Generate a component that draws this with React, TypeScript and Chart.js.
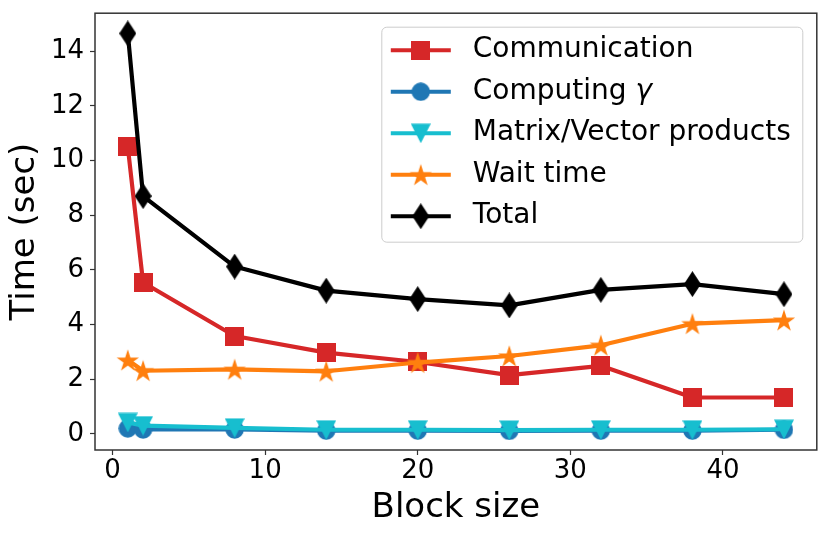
import React, { useEffect, useRef } from 'react';
import { Chart, registerables } from 'chart.js';

Chart.register(...registerables);

// values
const blockSizes = [1, 2, 8, 14, 20, 26, 32, 38, 44];
const communication = [10.5, 5.54, 3.58, 2.97, 2.63, 2.15, 2.49, 1.33, 1.33];
const computingGamma = [0.2, 0.16, 0.16, 0.12, 0.12, 0.11, 0.12, 0.12, 0.15];
const matrixVector = [0.42, 0.3, 0.22, 0.15, 0.15, 0.14, 0.15, 0.15, 0.17];
const waitTime = [2.7, 2.31, 2.36, 2.29, 2.61, 2.85, 3.24, 4.03, 4.16];
const total = [14.65, 8.7, 6.12, 5.24, 4.93, 4.7, 5.27, 5.48, 5.11];

const xTicks = [0, 10, 20, 30, 40];
const yTicks = [0, 2, 4, 6, 8, 10, 12, 14];

const FONT = "'DejaVu Sans', 'Liberation Sans', sans-serif";

// small canvases used as point styles (and in the legend)
function makeMarker(shape: string, color: string): HTMLCanvasElement {
  const c = document.createElement('canvas');
  const sizes: Record<string, [number, number]> = {
    square: [19, 19],
    circle: [19, 19],
    triangle: [20, 20],
    star: [24, 24],
    diamond: [17, 26],
  };
  const [w, h] = sizes[shape];
  c.width = w;
  c.height = h;
  const ctx = c.getContext('2d')!;
  ctx.fillStyle = color;
  ctx.beginPath();
  if (shape === 'square') {
    ctx.rect(0, 0, w, h);
  } else if (shape === 'circle') {
    ctx.arc(w / 2, h / 2, w / 2 - 0.3, 0, Math.PI * 2);
  } else if (shape === 'triangle') {
    ctx.moveTo(0, 0.5);
    ctx.lineTo(w, 0.5);
    ctx.lineTo(w / 2, h);
    ctx.closePath();
  } else if (shape === 'star') {
    const R = w / 2 - 0.3;
    const r = R * 0.382;
    for (let i = 0; i < 10; i++) {
      const a = -Math.PI / 2 + (i * Math.PI) / 5;
      const rad = i % 2 === 0 ? R : r;
      const px = w / 2 + rad * Math.cos(a);
      const py = h / 2 + 1 + rad * Math.sin(a);
      if (i === 0) ctx.moveTo(px, py);
      else ctx.lineTo(px, py);
    }
    ctx.closePath();
  } else {
    ctx.moveTo(w / 2, 0);
    ctx.lineTo(w, h / 2);
    ctx.lineTo(w / 2, h);
    ctx.lineTo(0, h / 2);
    ctx.closePath();
  }
  ctx.fill();
  return c;
}

const noPadding = () => ({ left: 0, top: 0, right: 0, bottom: 0 });

const framePlugin = {
  id: 'frame',
  afterDatasetsDraw(chart: any) {
    const { ctx, chartArea } = chart;
    const { left, top, right, bottom } = chartArea;
    ctx.save();
    ctx.strokeStyle = '#333';
    ctx.lineWidth = 1.5;
    ctx.strokeRect(left, top, right - left, bottom - top);
    ctx.restore();
  },
};

const legendPlugin = {
  id: 'boxLegend',
  afterDraw(chart: any) {
    const { ctx, chartArea } = chart;
    const boxW = 421;
    const boxH = 215;
    const bx = chartArea.right - 14 - boxW;
    const by = chartArea.top + 14;
    ctx.save();
    ctx.beginPath();
    (ctx as any).roundRect(bx, by, boxW, boxH, 5);
    ctx.fillStyle = 'rgba(255,255,255,0.85)';
    ctx.fill();
    ctx.strokeStyle = '#cccccc';
    ctx.lineWidth = 1;
    ctx.stroke();
    chart.data.datasets.forEach((ds: any, i: number) => {
      const y = by + 23 + i * 41.5;
      ctx.strokeStyle = ds.borderColor;
      ctx.lineWidth = 4;
      ctx.beginPath();
      ctx.moveTo(bx + 9, y);
      ctx.lineTo(bx + 69, y);
      ctx.stroke();
      const img = ds.pointStyle as HTMLCanvasElement;
      ctx.drawImage(img, bx + 39 - img.width / 2, y - img.height / 2);
      ctx.fillStyle = '#000';
      ctx.textBaseline = 'middle';
      ctx.textAlign = 'left';
      ctx.font = `28px ${FONT}`;
      const label: string = ds.label;
      if (label.endsWith('γ')) {
        const head = label.slice(0, -1);
        ctx.fillText(head, bx + 91, y);
        const wHead = ctx.measureText(head).width;
        ctx.font = `italic 28px ${FONT}`;
        ctx.fillText('γ', bx + 91 + wHead, y);
      } else {
        ctx.fillText(label, bx + 91, y);
      }
    });
    ctx.restore();
  },
};

const App: React.FC = () => {
  const canvasRef = useRef<HTMLCanvasElement | null>(null);
  const chartRef = useRef<Chart | null>(null);

  useEffect(() => {
    if (!canvasRef.current) return;
    if (chartRef.current) chartRef.current.destroy();

    const series = [
      { label: 'Communication', values: communication, color: '#d62728', shape: 'square' },
      { label: 'Computing γ', values: computingGamma, color: '#1f77b4', shape: 'circle' },
      { label: 'Matrix/Vector products', values: matrixVector, color: '#17becf', shape: 'triangle' },
      { label: 'Wait time', values: waitTime, color: '#ff7f0e', shape: 'star' },
      { label: 'Total', values: total, color: '#000000', shape: 'diamond' },
    ];

    const tickFont = { family: FONT, size: 26 };

    chartRef.current = new Chart(canvasRef.current, {
      type: 'line',
      data: {
        datasets: series.map((s, i) => ({
          label: s.label,
          data: blockSizes.map((b, j) => ({ x: b, y: s.values[j] })),
          borderColor: s.color,
          backgroundColor: s.color,
          borderWidth: 4.2,
          borderJoinStyle: 'round' as const,
          pointStyle: makeMarker(s.shape, s.color),
          pointRadius: 9,
          pointHoverRadius: 9,
          tension: 0,
          fill: false,
          order: series.length - i,
        })),
      },
      options: {
        animation: false,
        responsive: false,
        devicePixelRatio: 1,
        layout: { padding: { left: 0, right: 10, top: 10, bottom: 0 } },
        plugins: {
          legend: { display: false },
          tooltip: { enabled: false },
        },
        scales: {
          x: {
            type: 'linear',
            min: -1.15,
            max: 46.15,
            afterBuildTicks: (scale: any) => {
              scale.ticks = xTicks.map((v) => ({ value: v }));
            },
            afterFit: (scale: any) => {
              scale.height = 87;
              scale.paddingLeft = 0;
              scale.paddingRight = 0;
              scale.getPadding = noPadding;
            },
            border: { display: false },
            grid: {
              drawOnChartArea: false,
              drawTicks: true,
              tickLength: 5,
              tickWidth: 1.2,
              tickColor: '#333',
            },
            ticks: { font: tickFont, color: '#000', padding: 1, maxRotation: 0 },
            title: {
              display: true,
              text: 'Block size',
              color: '#000',
              font: { family: FONT, size: 34 },
              padding: { top: 0, bottom: 8.4 },
            },
          },
          y: {
            type: 'linear',
            min: -0.59,
            max: 15.39,
            afterBuildTicks: (scale: any) => {
              scale.ticks = yTicks.map((v) => ({ value: v }));
            },
            afterFit: (scale: any) => {
              scale.width = 95;
              scale.paddingTop = 0;
              scale.paddingBottom = 0;
              scale.getPadding = noPadding;
            },
            border: { display: false },
            grid: {
              drawOnChartArea: false,
              drawTicks: true,
              tickLength: 5,
              tickWidth: 1.2,
              tickColor: '#333',
            },
            ticks: { font: tickFont, color: '#000', padding: 6 },
            title: {
              display: true,
              text: 'Time (sec)',
              color: '#000',
              font: { family: FONT, size: 34 },
              padding: { top: 5, bottom: 0 },
            },
          },
        },
      },
      plugins: [framePlugin, legendPlugin],
    });

    return () => {
      if (chartRef.current) {
        chartRef.current.destroy();
        chartRef.current = null;
      }
    };
  }, []);

  return (
    <div style={{ position: 'fixed', left: 0, top: 0, width: 830, height: 537, background: '#fff' }}>
      <canvas ref={canvasRef} width={830} height={537} />
    </div>
  );
};

export default App;
